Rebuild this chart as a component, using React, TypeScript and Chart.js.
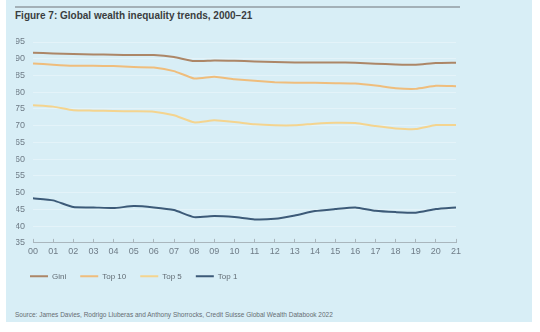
import React, { useEffect, useRef } from "react";
import { Chart, registerables } from "chart.js";
Chart.register(...registerables);

const years = ["00","01","02","03","04","05","06","07","08","09","10","11","12","13","14","15","16","17","18","19","20","21"];
const gini = [91.8, 91.6, 91.4, 91.3, 91.2, 91.1, 91.1, 90.5, 89.3, 89.5, 89.4, 89.2, 89.0, 88.9, 88.9, 88.9, 88.8, 88.5, 88.3, 88.2, 88.7, 88.8];
const top10 = [88.6, 88.2, 87.9, 87.9, 87.8, 87.5, 87.4, 86.3, 84.1, 84.6, 83.9, 83.4, 83.0, 82.8, 82.8, 82.7, 82.6, 82.0, 81.2, 81.0, 81.9, 81.8];
const top5 = [76.1, 75.7, 74.6, 74.5, 74.4, 74.3, 74.2, 73.1, 71.0, 71.6, 71.1, 70.4, 70.1, 70.1, 70.6, 70.9, 70.8, 69.9, 69.2, 69.0, 70.2, 70.2];
const top1 = [48.3, 47.7, 45.7, 45.6, 45.4, 46.0, 45.6, 44.8, 42.7, 43.0, 42.7, 42.0, 42.2, 43.2, 44.5, 45.1, 45.6, 44.6, 44.2, 44.0, 45.1, 45.6];
const seriesNames = ["Gini", "Top 10", "Top 5", "Top 1"];
const seriesColors = ["#ac8667", "#efbd7c", "#f4d48f", "#3c5a78"];
const title = "Figure 7: Global wealth inequality trends, 2000–21";
const source = "Source: James Davies, Rodrigo Lluberas and Anthony Shorrocks, Credit Suisse Global Wealth Databook 2022";

const FONT = "'Liberation Sans', Arial, Helvetica, sans-serif";

export default function App() {
  const ref = useRef<HTMLCanvasElement | null>(null);
  useEffect(() => {
    document.body.style.margin = "0";
    if (!ref.current) return;
    Chart.defaults.font.family = FONT;
    const data = [gini, top10, top5, top1];
    const chart = new Chart(ref.current, {
      type: "line",
      data: {
        labels: years,
        datasets: data.map((d, i) => ({
          label: seriesNames[i],
          data: d,
          borderColor: seriesColors[i],
          backgroundColor: seriesColors[i],
          borderWidth: 2,
          pointRadius: 0,
          tension: 0.15,
          fill: false,
        })),
      },
      options: {
        animation: false,
        responsive: false,
        maintainAspectRatio: false,
        layout: { padding: { left: 16, right: 84, top: 42, bottom: 9.7 } },
        plugins: {
          tooltip: { enabled: false },
          legend: {
            position: "bottom",
            align: "start",
            labels: {
              usePointStyle: true,
              pointStyle: "line",
              pointStyleWidth: 18,
              boxWidth: 18,
              font: { size: 8, family: FONT },
              color: "#626c74",
              padding: 14,
            },
          },
        },
        scales: {
          x: {
            afterFit: (s: any) => { s.height = s.height - 6.4; },
            grid: { drawOnChartArea: false, tickLength: -4, color: "#a9b6bd", lineWidth: 1 },
            border: { color: "#a9b6bd", width: 1 },
            ticks: { font: { size: 9, family: FONT }, color: "#6f7c87", padding: 7.5, maxRotation: 0, autoSkip: false },
          },
          y: {
            min: 35,
            max: 95,
            afterFit: (s: any) => { s.width = 17; },
            grid: { color: "rgba(255,255,255,0.32)", drawTicks: false, lineWidth: 1 },
            border: { display: false },
            ticks: { stepSize: 5, font: { size: 9, family: FONT }, color: "#6f7c87", padding: 8 },
          },
        },
      },
    });
    return () => chart.destroy();
  }, []);

  return (
    <div style={{ position: "relative", width: 540, height: 332, background: "#ffffff", overflow: "hidden" }}>
      <div style={{ position: "absolute", left: 6, top: 0, width: 526, height: 322, background: "#d8eef6" }} />
      <div style={{ position: "absolute", left: 15, top: 6, width: 445, height: 2, background: "#a3b0b7" }} />
      <div style={{ position: "absolute", left: 15, top: 10, fontFamily: FONT, fontWeight: "bold", fontSize: 10, color: "#3a3d40", whiteSpace: "nowrap" }}>{title}</div>
      <canvas ref={ref} width={540} height={300} style={{ position: "absolute", left: 0, top: 0, width: 540, height: 300 }} />
      <div style={{ position: "absolute", left: 15, top: 311, fontFamily: FONT, fontSize: 6.5, color: "#666d72", whiteSpace: "nowrap" }}>{source}</div>
    </div>
  );
}
